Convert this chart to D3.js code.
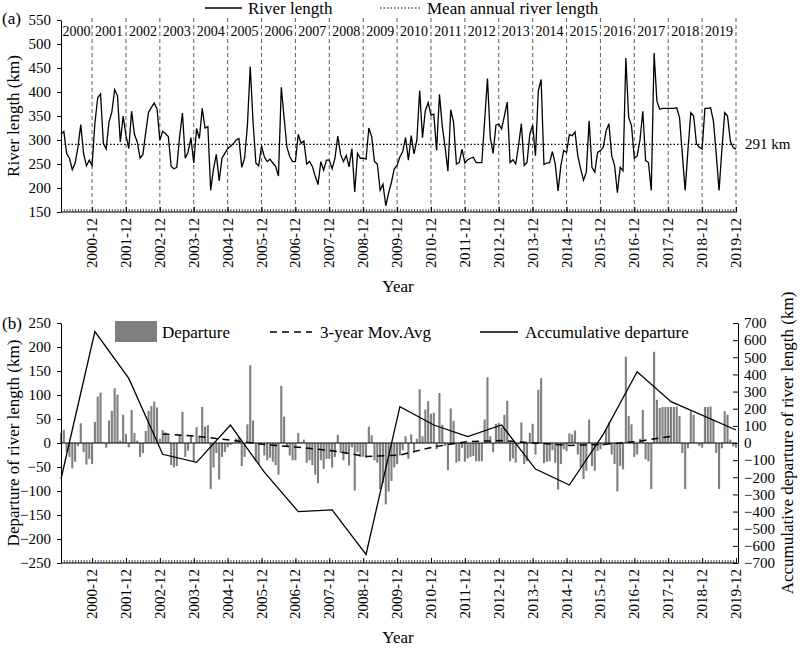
<!DOCTYPE html>
<html>
<head>
<meta charset="utf-8">
<script src="https://cdn.jsdelivr.net/npm/d3@7"></script>
<style>
  body { margin: 0; background: #fff; }
  svg, svg text { font-family: "Liberation Serif", "Times New Roman", serif; }
</style>
</head>
<body>
<div id="chart"></div>
<script>
// ---- data ----
var yearLabels = ["2000","2001","2002","2003","2004","2005","2006","2007","2008","2009",
                  "2010","2011","2012","2013","2014","2015","2016","2017","2018","2019"];
var monthTickLabels = ["2000-12","2001-12","2002-12","2003-12","2004-12","2005-12","2006-12",
                       "2007-12","2008-12","2009-12","2010-12","2011-12","2012-12","2013-12",
                       "2014-12","2015-12","2016-12","2017-12","2018-12","2019-12"];
// monthly river length (km), 2000-01 .. 2019-12
var riverLength = [
  312,318,272,262,238,252,285,332,272,246,258,247,
  335,388,396,293,281,338,358,405,392,296,350,310,
  282,360,312,296,262,270,316,358,368,377,365,300,
  318,313,307,245,240,243,307,356,262,275,305,252,
  324,303,366,325,328,195,240,270,215,262,272,282,
  287,292,300,303,243,262,330,453,338,252,246,288,
  265,255,260,252,245,225,410,346,285,265,255,255,
  312,293,298,250,255,245,225,207,255,237,258,258,
  240,262,308,270,255,268,244,282,192,272,262,262,
  260,325,307,255,250,195,208,163,190,212,240,247,
  265,276,305,258,309,271,300,403,305,361,378,352,
  354,278,395,329,285,235,363,337,250,253,281,252,
  259,262,264,253,253,253,340,428,305,272,331,333,
  323,350,379,253,259,250,288,334,247,253,312,331,
  267,402,426,249,252,253,276,250,194,247,278,274,
  311,309,317,267,240,216,233,340,243,233,274,278,
  285,319,334,267,247,190,243,236,471,347,330,262,
  267,300,360,257,253,195,481,381,364,366,366,366,
  366,366,367,347,270,195,280,357,350,292,285,281,
  366,366,367,340,270,195,280,357,350,298,284,281
];
var meanLength = 291;

var accumDates = ["2000-01","2001-01","2002-01","2003-01","2004-01","2005-01","2006-01",
                  "2007-01","2008-01","2009-01","2010-01","2011-01","2012-01","2013-01",
                  "2014-01","2015-01","2016-01","2017-01","2018-01","2019-12"];
var accumDeparture = [-210,650,377,-66,-113,105,-170,-400,-390,-650,
                      212,105,37,105,-152,-245,50,416,241,76];

var movAvgDates = ["2003-01","2004-01","2005-01","2006-01","2007-01","2008-01","2009-01",
                   "2010-01","2011-01","2012-01","2013-01","2014-01","2015-01","2016-01",
                   "2017-01","2018-01"];
var movAvg = [19,14,6,-3,-9,-16,-28,-25,-8,3,5,0,-5,-3,3,14];

// ---- setup ----
var W = 800, H = 650;
var svg = d3.select("#chart").append("svg").attr("width", W).attr("height", H);

function monthIndex(s) {
  var p = s.split("-");
  return (+p[0] - 2000) * 12 + (+p[1] - 1);
}

var x = d3.scaleLinear().domain([0, 239]).range([61, 736]);
var decIdx = monthTickLabels.map(monthIndex);

function serif(a) {
  a.attr("font-family", null);
  a.selectAll("text").attr("font-size", 15);
}

function bottomAxis(g, yPos) {
  // monthly minor ticks
  g.append("g")
    .attr("transform", "translate(0," + yPos + ")")
    .call(d3.axisBottom(x).tickValues(d3.range(240)).tickSize(-3).tickSizeOuter(0).tickFormat(""))
    .call(function(a){ a.select(".domain").remove(); a.selectAll("line").attr("stroke-width", 0.7); });
  g.append("g")
    .attr("transform", "translate(0," + yPos + ")")
    .call(d3.axisBottom(x).tickValues(decIdx).tickSize(-5).tickSizeOuter(0).tickFormat(""))
    .call(function(a){ a.select(".domain").attr("d", "M61,0H737"); });
  g.selectAll("text.mlab")
    .data(monthTickLabels)
    .enter().append("text")
    .attr("class", "mlab")
    .attr("transform", function(d){ return "translate(" + (x(monthIndex(d)) + 5) + "," + (yPos + 6) + ") rotate(-90)"; })
    .attr("text-anchor", "end")
    .attr("font-size", 15)
    .text(function(d){ return d; });
}

// ================= panel (a) =================
var ya = d3.scaleLinear().domain([150, 550]).range([212, 20]);
var ga = svg.append("g");

// year separators
ga.selectAll("line.sep")
  .data(decIdx)
  .enter().append("line")
  .attr("x1", function(d){ return x(d); })
  .attr("x2", function(d){ return x(d); })
  .attr("y1", 18).attr("y2", 212)
  .attr("stroke", "#333").attr("stroke-width", 0.8)
  .attr("stroke-dasharray", "4,3");

// year labels between separators
ga.selectAll("text.yr")
  .data(yearLabels)
  .enter().append("text")
  .attr("x", function(d, i){
    var a = i === 0 ? x(0) : x(i * 12 - 1);
    return (a + x(i * 12 + 11)) / 2;
  })
  .attr("y", 36)
  .attr("text-anchor", "middle")
  .attr("font-size", 14)
  .text(function(d){ return d; });

// mean line
ga.append("line")
  .attr("x1", x(0)).attr("x2", x(239))
  .attr("y1", ya(meanLength)).attr("y2", ya(meanLength))
  .attr("stroke", "#000").attr("stroke-width", 1.2)
  .attr("stroke-dasharray", "1.5,2");
ga.append("text")
  .attr("x", 745).attr("y", ya(meanLength) + 5)
  .attr("font-size", 15)
  .text(meanLength + " km");

// river length line
ga.append("path")
  .datum(riverLength)
  .attr("fill", "none").attr("stroke", "#000").attr("stroke-width", 1.3)
  .attr("d", d3.line().x(function(d, i){ return x(i); }).y(function(d){ return ya(d); }));

// left axis
ga.append("g")
  .attr("transform", "translate(61,0)")
  .call(d3.axisLeft(ya).tickValues(d3.range(150, 551, 50)).tickSize(4).tickSizeOuter(0).tickPadding(6))
  .call(serif);

bottomAxis(ga, 212);

ga.append("text").attr("x", 2).attr("y", 24).attr("font-size", 17).text("(a)");
ga.append("text")
  .attr("transform", "translate(19,116) rotate(-90)")
  .attr("text-anchor", "middle").attr("font-size", 17)
  .text("River length (km)");
ga.append("text").attr("x", 398).attr("y", 292).attr("text-anchor", "middle")
  .attr("font-size", 17).text("Year");

// legend (a)
ga.append("line").attr("x1", 205).attr("x2", 242).attr("y1", 8).attr("y2", 8)
  .attr("stroke", "#000").attr("stroke-width", 1.3);
ga.append("text").attr("x", 248).attr("y", 14).attr("font-size", 17).text("River length");
ga.append("line").attr("x1", 380).attr("x2", 422).attr("y1", 8).attr("y2", 8)
  .attr("stroke", "#000").attr("stroke-width", 1.2).attr("stroke-dasharray", "1.5,2");
ga.append("text").attr("x", 427).attr("y", 14).attr("font-size", 17).text("Mean annual river length");

// ================= panel (b) =================
var yb = d3.scaleLinear().domain([-250, 250]).range([563, 323]);
var yr = d3.scaleLinear().domain([-700, 700]).range([563, 323]);
var gb = svg.append("g");

var departure = riverLength.map(function(v){ return v - meanLength; });

gb.selectAll("rect.bar")
  .data(departure)
  .enter().append("rect")
  .attr("class", "bar")
  .attr("x", function(d, i){ return x(i) - 1.05; })
  .attr("width", 2.1)
  .attr("y", function(d){ return d >= 0 ? yb(d) : yb(0); })
  .attr("height", function(d){ return Math.abs(yb(d) - yb(0)); })
  .attr("fill", "#7f7f7f");

// zero line
gb.append("line").attr("x1", 61).attr("x2", 737).attr("y1", yb(0)).attr("y2", yb(0))
  .attr("stroke", "#000").attr("stroke-width", 1);

// moving average
gb.append("path")
  .datum(movAvg)
  .attr("fill", "none").attr("stroke", "#000").attr("stroke-width", 1.5)
  .attr("stroke-dasharray", "7,5")
  .attr("d", d3.line().x(function(d, i){ return x(monthIndex(movAvgDates[i])); }).y(function(d){ return yb(d); }));

// accumulative departure
gb.append("path")
  .datum(accumDeparture)
  .attr("fill", "none").attr("stroke", "#000").attr("stroke-width", 1.3)
  .attr("d", d3.line().x(function(d, i){ return x(monthIndex(accumDates[i])); }).y(function(d){ return yr(d); }));

// axes
gb.append("g")
  .attr("transform", "translate(61,0)")
  .call(d3.axisLeft(yb).tickValues(d3.range(-250, 251, 50)).tickSize(4).tickSizeOuter(0).tickPadding(6))
  .call(serif);
gb.append("g")
  .attr("transform", "translate(738,0)")
  .call(d3.axisRight(yr).tickValues(d3.range(-700, 701, 100)).tickSize(-5).tickSizeOuter(0).tickPadding(6))
  .call(serif);

bottomAxis(gb, 563);

gb.append("text").attr("x", 2).attr("y", 329).attr("font-size", 17).text("(b)");
gb.append("text")
  .attr("transform", "translate(19,443) rotate(-90)")
  .attr("text-anchor", "middle").attr("font-size", 17)
  .text("Departure of river length (km)");
gb.append("text")
  .attr("transform", "translate(793,443) rotate(-90)")
  .attr("text-anchor", "middle").attr("font-size", 17)
  .text("Accumulative departure of river length (km)");
gb.append("text").attr("x", 398).attr("y", 643).attr("text-anchor", "middle")
  .attr("font-size", 17).text("Year");

// legend (b)
gb.append("rect").attr("x", 115).attr("y", 321).attr("width", 42).attr("height", 21).attr("fill", "#7f7f7f");
gb.append("text").attr("x", 162).attr("y", 338).attr("font-size", 17).text("Departure");
gb.append("line").attr("x1", 270).attr("x2", 312).attr("y1", 332).attr("y2", 332)
  .attr("stroke", "#000").attr("stroke-width", 1.5).attr("stroke-dasharray", "7,5");
gb.append("text").attr("x", 320).attr("y", 338).attr("font-size", 17).text("3-year Mov.Avg");
gb.append("line").attr("x1", 480).attr("x2", 518).attr("y1", 332).attr("y2", 332)
  .attr("stroke", "#000").attr("stroke-width", 1.3);
gb.append("text").attr("x", 525).attr("y", 338).attr("font-size", 17).text("Accumulative departure");
</script>
</body>
</html>
